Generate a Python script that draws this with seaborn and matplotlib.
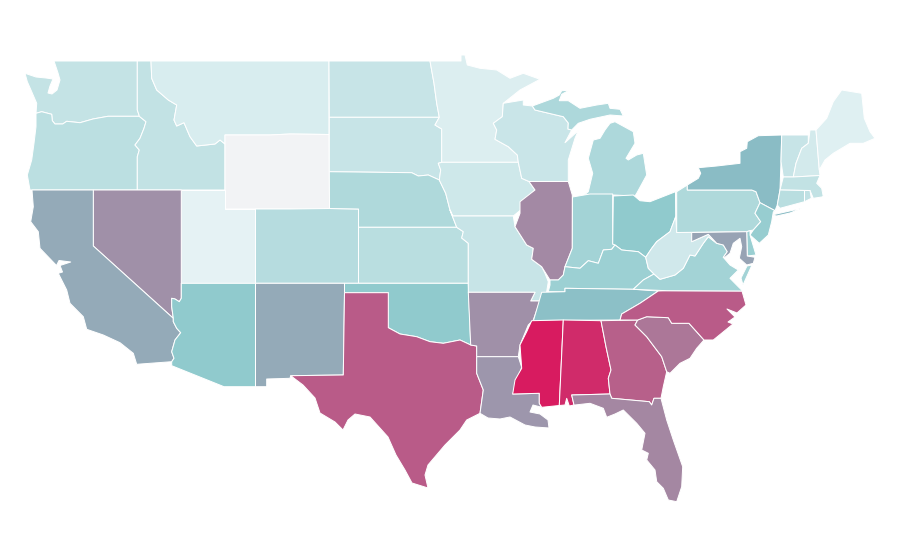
import matplotlib
matplotlib.use("Agg")
import matplotlib.pyplot as plt
import seaborn as sns

# Colour scale stops and the colour of the state without a value
scale_stops = ["#e8f4f6", "#90cacd", "#8abcc5", "#94aab8", "#a090a8", "#d81b60"]
no_data_color = "#f2f3f5"

# Value per state
states = ["WA","OR","ID","MT","WY","UT","CO","NV","CA","AZ","NM","ND","SD","NE","KS","OK","TX",
          "MN","IA","MO","AR","LA","WI","IL","MI","IN","OH","KY","TN","MS","AL","GA","FL","SC",
          "NC","VA","WV","PA","NY","VT","NH","ME","MA","CT","RI","NJ","DE","MD"]
values = [8.4,10.2,8.6,3.6,None,0.9,11.4,80,60,20,60,7.7,7.7,13.2,10.9,20,89,
          3,6.1,7.7,80,75,7.3,81,13.4,15.7,20,17.5,34,100,97,88,81.4,84,
          89,15.7,5.7,13.2,40,7.7,4.8,2,8.9,10.7,9,18.4,17.7,65]

# State outlines (one or more rings per state)
WA = [[(54,61),(137.3,61),(137.3,110),(139,115),(139.3,116.3),(108,116.3),(93,119),(80,122.7),(66.7,121.3),(62.7,124),(55,124),(52.3,120.7),(51.7,114.3),(41.7,111.7),(36,113.3),(36.7,103.3),(31.7,91.7),(27.3,81.7),(25,73.3),(36,77),(46,78),(53,79),(50,86),(48,93),(52,94),(57,90),(60,80),(58,73)]]
OR = [[(36,113.3),(41.7,111.7),(51.7,114.3),(52.3,120.7),(55,124),(62.7,124),(66.7,121.3),(80,122.7),(93,119),(108,116.3),(139.3,116.3),(146,121.7),(144,128.3),(140,138.3),(135,145),(139.3,150),(137.3,156.7),(137.3,190),(30,190),(27.3,175),(31.7,160),(34,143.3),(36,126.7)]]
ID = [[(137.3,61),(151,61),(151.7,78.3),(156.7,90),(168.3,100),(176.7,105),(174,120),(176.7,126),(184,122.7),(190,136.7),(196.7,146),(215,144),(220,140),(225,144),(225,190),(137.3,190),(137.3,156.7),(139.3,150),(135,145),(140,138.3),(144,128.3),(146,121.7),(139.3,116.3),(139,115),(137.3,110)]]
MT = [[(151,61),(329,61),(329,134.5),(290,134),(270,135),(225,135),(225,144),(220,140),(215,144),(196.7,146),(190,136.7),(184,122.7),(176.7,126),(174,120),(176.7,105),(168.3,100),(156.7,90),(151.7,78.3)]]
WY = [[(225,135),(270,135),(290,134),(329,134.5),(329.5,208.5),(290,209),(255.5,209),(225,209)]]
UT = [[(181.3,190),(225,190),(225,209),(255.5,209),(255.5,283.3),(181.3,283.3)]]
CO = [[(255.5,209),(290,209),(329.5,208.5),(358.5,209),(358.5,283.3),(255.5,283.3)]]
NV = [[(93.3,190),(181.3,190),(181.3,298.3),(179.3,301.7),(175,299),(171.7,298.3),(171.7,306.7),(173.3,318.3),(93.3,246)]]
CA = [[(32,190),(93.3,190),(93.3,246),(173.3,318.3),(173.3,321.7),(176.7,328.3),(180.7,332.7),(175,340),(171.7,351.7),(174,358.3),(171.7,361.7),(136.7,364.3),(133.3,353.3),(120,342.7),(103.3,335),(86.7,329.3),(83.3,316.7),(70,303.3),(66.7,290),(58.3,273.3),(62.5,272),(60,265.5),(70.7,262),(59,260.5),(56.5,265.5),(40,248.3),(38.3,231.7),(30.7,221.7),(33.3,206.7)]]
AZ = [[(181.3,283.3),(255.5,283.3),(255.5,386.7),(224,386.7),(171.7,365.7),(171.7,361.7),(174,358.3),(171.7,351.7),(175,340),(180.7,332.7),(176.7,328.3),(173.3,321.7),(173.3,318.3),(171.7,306.7),(171.7,298.3),(175,299),(179.3,301.7),(181.3,298.3)]]
NM = [[(255.5,283.3),(344.5,283.3),(344.5,292.7),(343.3,375),(290.7,375.7),(290,378.3),(266.7,379),(266.7,386.7),(255.5,386.7)]]
ND = [[(329,61),(430,61),(434,83.3),(436.7,103.3),(439.3,117.3),(329.3,117.3)]]
SD = [[(329.3,117.3),(439.3,117.3),(435,125),(441.7,129),(441.7,162.3),(438.3,163.3),(440.7,170),(439.3,180),(428.3,175),(418.3,176),(411.7,172.7),(329.3,171.7)]]
NE = [[(329.3,171.7),(411.7,172.7),(418.3,176),(428.3,175),(439.3,180),(445.7,193.3),(450,210),(456.7,227.3),(358.5,227.3),(358.5,209),(329.5,208.5)]]
KS = [[(358.5,227.3),(456.7,227.3),(463.3,231.7),(461.7,238),(468.3,243.3),(468.3,283.3),(358.5,283.3)]]
OK = [[(344.5,283.3),(468.3,283.3),(470.7,345),(460,340),(443.3,343.3),(430,341.7),(416.7,336.7),(400,334),(388.3,327.7),(388.3,292.7),(344.5,292.7)]]
TX = [[(344.5,292.7),(388.3,292.7),(388.3,327.7),(400,334),(416.7,336.7),(430,341.7),(443.3,343.3),(460,340),(470.7,345),(476.7,346),(476.7,373.3),(483.3,390),(480,413.3),(466.7,420),(460,430),(445,445),(428,465),(425,475),(428,488),(412,483),(405,470),(396,455),(388,437),(370,417),(355,414),(348,420),(343,430),(335,422),(320,413),(315,398),(303,385),(290.7,375.7),(343.3,375)]]
MN = [[(430,61),(461,61),(461,55),(465,55),(467.3,65),(480,68.3),(496.7,70),(510,78.3),(523.3,73.3),(540,79.3),(520,90),(503.3,103.3),(502.3,116.7),(493.3,123.3),(496.7,130),(495,139.3),(508.3,146.7),(517.3,155),(518.3,162.3),(441.7,162.3),(441.7,129),(435,125),(439.3,117.3),(436.7,103.3),(434,83.3)]]
IA = [[(441.7,162.3),(518.3,162.3),(521.7,178.3),(529,181.5),(535,190),(521.7,201.7),(520.7,210),(513.3,216),(452.7,216),(450,210),(445.7,193.3),(439.3,180),(440.7,170),(438.3,163.3)]]
MO = [[(452.7,216),(513.3,216),(515,226.7),(526.7,245),(533.3,248.3),(531.7,259.3),(541.7,266.7),(545,273.3),(548.3,281.7),(546.7,291.7),(540,301),(530.7,301),(535,292.3),(468.3,292.3),(468.3,243.3),(461.7,238),(463.3,231.7),(456.7,227.3),(450,210)]]
AR = [[(468.3,292.3),(535,292.3),(530.7,301),(540,301),(533.3,320),(528.3,325),(520,345),(518.3,356.7),(476.7,356.7),(476.7,346),(470.7,345)]]
LA = [[(476.7,356.7),(518.3,356.7),(521.7,367.3),(512.7,394),(539.3,393.3),(539.3,403.3),(541.7,407.3),(533,405),(530,412),(540,414),(548,420),(549,428),(535,427),(525,425),(510,417),(500,419),(488,418),(480,413.3),(483.3,390),(476.7,373.3)]]
WI = [[(503.3,103.3),(523.3,100),(523.3,105),(532.3,106),(535,110),(563.3,116.7),(568.3,123),(568,129),(571.7,130),(565,142.7),(578.3,130.7),(575,138.3),(568.3,160),(568.3,181.5),(529,181.5),(521.7,178.3),(518.3,162.3),(517.3,155),(508.3,146.7),(495,139.3),(496.7,130),(493.3,123.3),(502.3,116.7)]]
IL = [[(529,181.5),(568.3,181.5),(572.3,195),(572.3,248.3),(565,266.7),(563.3,275),(558.3,280),(550,280),(541.7,266.7),(531.7,259.3),(533.3,248.3),(526.7,245),(515,226.7),(520,213.3),(520,201.7),(535,190)]]
MI = [[(584.3,195),(613.3,195),(635,196),(636.7,193.3),(646.7,175),(643.3,153.3),(636.7,155),(628.3,160),(626,158.3),(635,143.3),(633.3,131.7),(615,121.7),(610,123.3),(605,130),(600,138.3),(593.3,140),(588.3,158.3),(592.7,173.3),(588.3,191.7)],
      [(532.3,106),(553.3,98.3),(559.3,95),(561.7,90.7),(569,90.3),(561.7,94.3),(559.3,100.7),(568.3,100.7),(580,108.3),(596.7,105),(608.3,103.3),(610,108.3),(620,109.3),(623.3,116),(610,115),(590,119.3),(578.3,123.3),(571.7,130),(568,129),(568.3,123),(563.3,116.7),(535,110)]]
IN = [[(572.5,197),(590,194),(612.7,194),(612.7,244),(615,245),(611.7,249.3),(603.3,250),(598.3,263.3),(588.3,260.7),(580,268.3),(565,266.7),(572.3,248.3)]]
OH = [[(613.3,196),(633.3,195),(640,200.7),(650,201.7),(675.5,191.7),(675.7,216.7),(670,231.7),(656.7,241.7),(651.7,248.3),(645.7,257.3),(638.3,251.7),(621.7,250),(615,245),(612.7,244)]]
KY = [[(550,285),(550,280),(558.3,280),(563.3,275),(565,266.7),(580,268.3),(588.3,260.7),(598.3,263.3),(603.3,250),(611.7,249.3),(615,245),(621.7,250),(638.3,251.7),(645.7,257.3),(648.3,268.3),(654,274),(643.3,280),(633.3,289.3),(565,288.3),(565,291.7),(548.3,291.7)]]
TN = [[(541.7,292.3),(565,291.7),(565,288.3),(633.3,289.3),(658.3,291),(640,303.3),(621.7,314),(620,320),(533.5,320.5)]]
MS = [[(531.7,320.7),(563.3,320),(559.3,405.5),(541.7,407.3),(539.3,403.3),(539.3,393.3),(512.7,394),(515,380),(521.7,368.3),(520,345),(526.7,331.7)]]
AL = [[(563.3,320),(601,320.7),(606,346.7),(611,370),(608.3,378.3),(610,394),(571.7,395),(574,405),(569.3,406),(566.7,398.3),(565,405),(559.3,405.5)]]
GA = [[(601,320.7),(637.7,320),(635,325),(646.7,336.7),(661.7,356.7),(666.7,371.7),(663.3,386.7),(661,398.3),(654,398.3),(651.7,405),(649.3,401.7),(611.7,398.3),(610,394),(608.3,378.3),(611,370),(606,346.7)]]
FL = [[(571.7,395),(610,394),(611.7,398.3),(649.3,401.7),(651.7,405),(654,398.3),(661,398.3),(666.7,420),(673.3,440),(682.7,466.7),(681.7,486.7),(676.7,501.7),(668.3,500),(663.3,488.3),(656.7,481.7),(655,470),(646.7,460),(648.3,453.3),(641.7,450),(645,433.3),(636.7,423.3),(623.3,410),(615,414),(606.7,417.3),(603.3,408.3),(590,403.3),(575,405),(574,405)]]
SC = [[(637.7,320),(646.7,316.7),(668.3,317.7),(671.7,323.3),(689,323.3),(704,340),(696.7,348.3),(690,358.3),(680,363.3),(670,373.3),(666.7,371.7),(661.7,356.7),(646.7,336.7),(635,325)]]
NC = [[(620,320),(621.7,314),(640,303.3),(658.3,291),(666.7,290.7),(742,291),(746,305),(737,313),(727,309),(735,317),(728,322),(733,324),(713.3,340),(704,340),(689,323.3),(671.7,323.3),(668.3,317.7),(646.7,316.7),(637.7,320)]]
VA = [[(633.3,289.3),(643.3,280),(654,274),(660,279.3),(675,275),(683.3,268.3),(690,255),(695,256),(703.3,243.3),(708.3,236.7),(716.7,243.3),(723.3,245),(727.3,251.7),(723.3,257.3),(730,265),(738.3,270),(730,278.3),(738.3,286.7),(742.7,291),(666.7,290.7)],
      [(743,285),(752,265),(747,266),(741,278)]]
WV = [[(645.7,257.3),(651.7,248.3),(656.7,241.7),(670,231.7),(675.7,216.7),(676.7,232.3),(691.7,232.5),(691.7,241.7),(708.3,234.3),(716.7,243.3),(708.3,236.7),(703.3,243.3),(695,256),(690,255),(683.3,268.3),(675,275),(660,279.3),(654,274),(648.3,268.3)]]
PA = [[(676.7,191.7),(687.3,185),(687.3,190),(751.7,190),(756,191.7),(760,202.7),(755,213.3),(760.7,221.7),(753.3,230),(750,230.7),(746.7,231.7),(676.7,232.5)]]
NY = [[(687.3,190),(687.3,185),(698.3,178.3),(700.7,173.3),(698.3,167.7),(716.7,166),(740,163.3),(740,151.7),(746.7,148.3),(747.3,141.7),(758.3,135.7),(781.7,135),(781,161.7),(780,190),(777.3,205),(775,210.7),(760,202.7),(756,191.7),(751.7,190)],
      [(771.7,215),(801.7,208.3),(790,213),(776.7,216)]]
VT = [[(781.7,135),(808.3,135),(808.3,143.3),(801.7,148.3),(796,163.3),(793.3,177),(783.3,177),(781,161.7)]]
NH = [[(810,130),(816,130),(819.3,170),(820,175.5),(793.3,177),(796,163.3),(801.7,148.3),(808.3,143.3)]]
ME = [[(816,130),(826.7,118.3),(833.3,101.7),(841.7,90),(861.7,93.3),(864.3,118.3),(870,131.7),(875,138.3),(863.3,143.3),(850,143.3),(833.3,153.3),(825,160),(819.3,170)]]
MA = [[(783.3,177),(793.3,177),(820,175.5),(816.7,183.3),(821.7,188.3),(823.3,196.7),(830,195.7),(813.3,198.3),(810,190.5),(780,190)]]
CT = [[(780,190),(804.5,190.5),(804.5,201.7),(780,208.3),(777.3,205)]]
RI = [[(804.5,190.5),(810,190.5),(811.3,198.3),(804.5,201.7)]]
NJ = [[(760,202.7),(775,210.7),(773.3,212),(771.7,221.7),(768.3,235),(759.3,243.3),(750,235),(753.3,230),(760.7,221.7),(755,213.3)]]
DE = [[(746.7,231.7),(750,230.7),(750,235),(756,255),(747.3,256)]]
MD = [[(691.7,232.5),(746.7,231.7),(747.3,256),(755,257.3),(753.3,263.3),(746.7,265),(739.3,258.3),(741.7,246.7),(740,238.3),(733.3,243.3),(730,253.3),(725,257.3),(723.3,257.3),(727.3,251.7),(723.3,245),(716.7,243.3),(708.3,234.3),(691.7,241.7)]]

shapes = dict(WA=WA, OR=OR, ID=ID, MT=MT, WY=WY, UT=UT, CO=CO, NV=NV, CA=CA, AZ=AZ, NM=NM, ND=ND, SD=SD,
              NE=NE, KS=KS, OK=OK, TX=TX, MN=MN, IA=IA, MO=MO, AR=AR, LA=LA, WI=WI, IL=IL, MI=MI, IN=IN,
              OH=OH, KY=KY, TN=TN, MS=MS, AL=AL, GA=GA, FL=FL, SC=SC, NC=NC, VA=VA, WV=WV, PA=PA, NY=NY,
              VT=VT, NH=NH, ME=ME, MA=MA, CT=CT, RI=RI, NJ=NJ, DE=DE, MD=MD)

sns.set_theme(style="white")
cmap = sns.blend_palette(scale_stops, as_cmap=True)

fig = plt.figure(figsize=(9, 5.6), dpi=100)
ax = fig.add_axes([0, 0, 1, 1])
ax.set_xlim(0, 900)
ax.set_ylim(560, 0)
ax.axis("off")

for name, value in zip(states, values):
    color = no_data_color if value is None else cmap(value / 100)
    for ring in shapes[name]:
        xs, ys = zip(*ring)
        ax.fill(xs, ys, facecolor=color, edgecolor="white", linewidth=0.72, joinstyle="round", antialiased=True)

fig.savefig("out.png", dpi=100, facecolor="white")
